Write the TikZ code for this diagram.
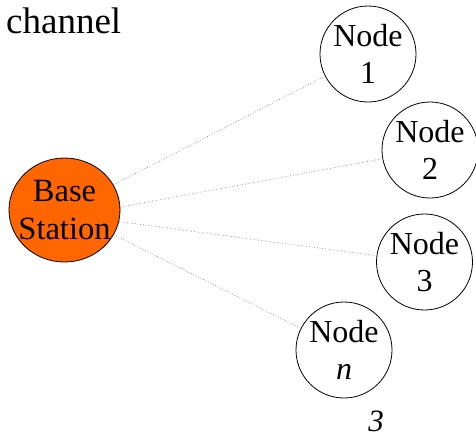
\documentclass[tikz,border=0pt]{standalone}
\usepackage{fontspec}
\setmainfont{Liberation Serif}
\newfontfamily\tnr{Liberation Serif}
\usetikzlibrary{shapes.geometric}
\definecolor{bsorange}{HTML}{FF6600}
\definecolor{linkgray}{HTML}{808080}
\begin{document}
\begin{tikzpicture}[x=1pt,y=-1pt,
  peer/.style={circle,draw=black,line width=0.8pt,minimum size=96pt,inner sep=0pt,align=center,font=\tnr\fontsize{32}{37}\selectfont},
  base/.style={ellipse,draw=black,line width=0.8pt,fill=bsorange,minimum width=111pt,minimum height=104pt,inner xsep=-20pt,inner ysep=-10pt,align=center,font=\tnr\fontsize{32.5}{38}\selectfont},
  link/.style={linkgray,dotted,line width=0.7pt},
  lbl/.style={inner sep=0pt,font=\tnr\fontsize{37}{42}\selectfont}]
\useasboundingbox (0,0) rectangle (476,437);
\node[lbl,anchor=base west] (ch) at (6,33) {channel};
\node[base] (bs) at (64.5,210) {Base\\Station};
\node[peer] (n1) at (368,54) {Node\\1};
\node[peer] (n2) at (430,150) {Node\\2};
\node[peer] (n3) at (424.5,262) {Node\\3};
\node[peer] (nn) at (344,350) {Node\\\textit{n}};
\node[inner sep=0pt,anchor=base,font=\tnr\fontsize{31}{37}\selectfont\itshape] (three) at (376,431) {3};
\draw[link] (bs) -- (n1);
\draw[link] (bs.3) -- (n2);
\draw[link] (bs.-12) -- (n3);
\draw[link] (bs) -- (nn);
\end{tikzpicture}
\end{document}
